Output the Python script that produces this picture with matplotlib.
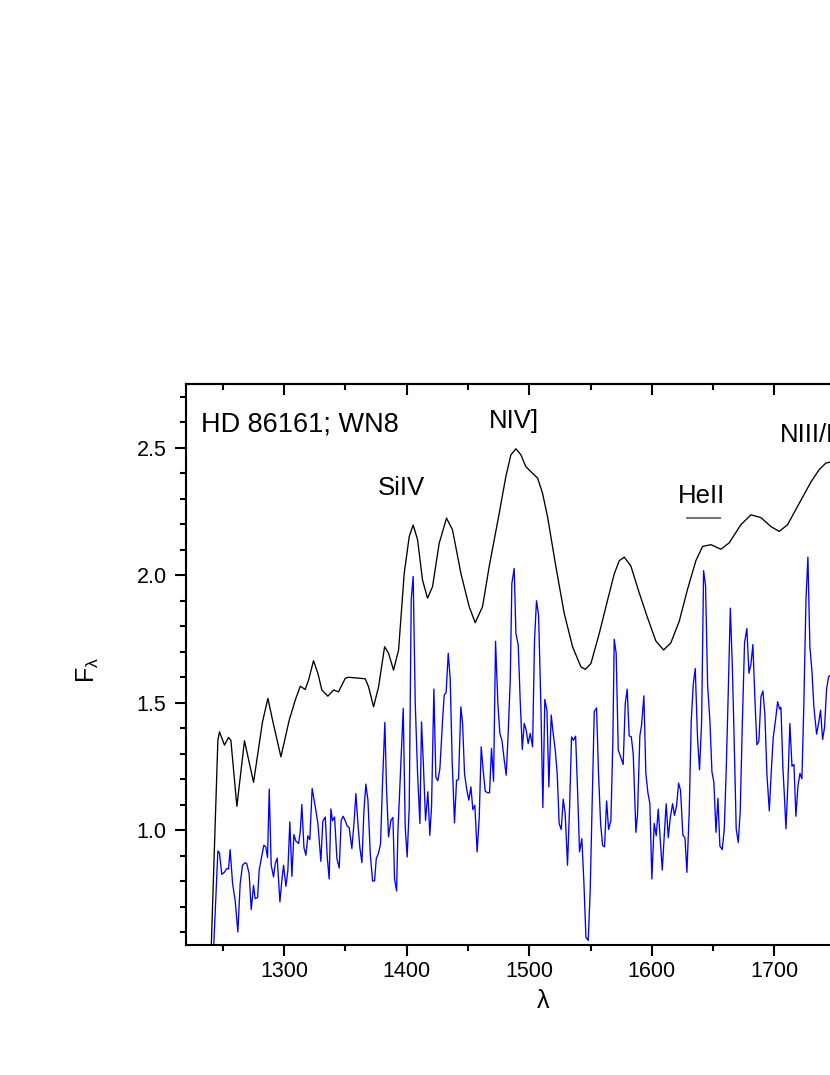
import matplotlib
matplotlib.use('Agg')
import matplotlib.pyplot as plt
from matplotlib.ticker import MultipleLocator, FormatStrFormatter

plt.rcParams['font.family'] = ['Liberation Sans', 'DejaVu Sans']
plt.rcParams['mathtext.default'] = 'regular'

# smoothed (model) spectrum, black
model_wave = [1240.3, 1246.0, 1247.3, 1251.4, 1254.7, 1256.6, 1261.5, 1267.7, 1275.1, 1282.4,
              1286.8, 1290.6, 1297.4, 1304.2, 1309.1, 1313.2, 1317.2, 1320.0, 1324.0, 1327.6,
              1330.8, 1335.7, 1340.4, 1344.4, 1349.9, 1352.6, 1366.2, 1368.9, 1373.0, 1377.1,
              1382.0, 1385.2, 1389.3, 1393.4, 1398.0, 1402.1, 1405.3, 1408.9, 1412.9, 1417.0,
              1421.1, 1426.5, 1432.5, 1437.4, 1444.2, 1451.0, 1455.9, 1461.9, 1467.3, 1475.5,
              1480.9, 1485.0, 1489.1, 1493.2, 1497.2, 1502.7, 1506.8, 1510.8, 1514.9, 1521.7,
              1528.5, 1535.3, 1542.1, 1545.7, 1550.3, 1557.1, 1563.9, 1569.3, 1573.4, 1577.5,
              1582.9, 1589.7, 1596.5, 1603.3, 1609.6, 1615.5, 1622.3, 1629.1, 1635.9, 1641.4,
              1648.2, 1656.3, 1663.1, 1672.6, 1680.8, 1689.0, 1697.1, 1703.9, 1710.7, 1720.2,
              1729.8, 1736.6, 1742.0, 1744.7, 1750.0]
model_flux = [0.50, 1.353, 1.386, 1.334, 1.364, 1.353, 1.094, 1.351, 1.188, 1.425,
              1.517, 1.432, 1.288, 1.432, 1.510, 1.565, 1.552, 1.589, 1.665, 1.615,
              1.550, 1.526, 1.550, 1.543, 1.596, 1.600, 1.594, 1.563, 1.484, 1.563,
              1.720, 1.694, 1.628, 1.707, 2.008, 2.152, 2.197, 2.139, 1.982, 1.910,
              1.955, 2.125, 2.224, 2.178, 2.008, 1.877, 1.814, 1.877, 2.034, 2.243,
              2.387, 2.472, 2.496, 2.472, 2.426, 2.400, 2.381, 2.322, 2.230, 2.034,
              1.851, 1.720, 1.641, 1.631, 1.654, 1.772, 1.903, 2.005, 2.057, 2.071,
              2.036, 1.931, 1.833, 1.742, 1.707, 1.735, 1.819, 1.945, 2.057, 2.113,
              2.120, 2.102, 2.127, 2.198, 2.237, 2.226, 2.191, 2.172, 2.198, 2.282,
              2.366, 2.415, 2.440, 2.443, 2.445]

# observed spectrum, blue
obs_wave = [1242.2, 1246.0, 1247.3, 1249.2, 1251.4, 1253.3, 1254.7, 1256.0, 1258.0, 1260.1,
            1262.3, 1264.2, 1266.1, 1268.3, 1269.6, 1271.5, 1273.2, 1275.1, 1276.4, 1278.4,
            1279.7, 1281.9, 1283.5, 1285.1, 1286.5, 1287.9, 1289.5, 1291.4, 1292.8, 1294.4,
            1296.6, 1298.2, 1299.6, 1301.5, 1303.1, 1304.7, 1306.4, 1308.0, 1309.6, 1311.8,
            1313.2, 1314.5, 1316.2, 1317.8, 1319.4, 1321.0, 1322.9, 1325.4, 1327.6, 1330.0,
            1331.6, 1333.6, 1335.2, 1336.8, 1338.2, 1339.5, 1341.2, 1343.1, 1345.0, 1346.6,
            1348.2, 1349.9, 1351.5, 1353.1, 1355.3, 1357.2, 1358.6, 1360.2, 1361.8, 1363.5,
            1365.1, 1366.7, 1368.4, 1370.3, 1372.2, 1373.8, 1375.2, 1377.1, 1378.7, 1380.3,
            1382.2, 1383.6, 1385.2, 1387.1, 1388.8, 1390.1, 1391.8, 1392.8, 1397.2, 1398.8,
            1400.4, 1402.1, 1403.7, 1405.3, 1407.0, 1408.9, 1410.8, 1412.1, 1413.5, 1415.4,
            1417.3, 1418.9, 1420.3, 1422.2, 1423.8, 1425.4, 1427.1, 1429.3, 1430.6, 1432.2,
            1433.9, 1435.5, 1437.1, 1439.0, 1440.7, 1442.3, 1444.2, 1445.6, 1447.2, 1449.1,
            1450.7, 1452.4, 1454.0, 1455.6, 1457.5, 1459.2, 1460.8, 1462.4, 1464.1, 1466.0,
            1467.6, 1469.2, 1470.9, 1472.5, 1474.4, 1476.0, 1477.7, 1479.6, 1481.2, 1482.8,
            1484.5, 1485.8, 1487.7, 1489.1, 1491.0, 1492.6, 1494.3, 1495.9, 1497.5, 1499.1,
            1500.8, 1502.7, 1504.3, 1505.9, 1507.6, 1509.5, 1511.1, 1512.7, 1514.4, 1516.0,
            1517.9, 1519.5, 1521.2, 1522.8, 1524.4, 1526.1, 1527.7, 1529.3, 1531.2, 1532.9,
            1534.5, 1536.1, 1537.8, 1539.4, 1541.0, 1542.9, 1544.6, 1546.2, 1548.1, 1549.7,
            1551.4, 1553.0, 1554.9, 1556.5, 1558.2, 1559.8, 1561.4, 1563.1, 1564.7, 1566.6,
            1568.2, 1569.3, 1570.9, 1572.6, 1574.7, 1576.6, 1578.3, 1579.9, 1581.5, 1583.2,
            1584.8, 1587.0, 1588.3, 1590.2, 1591.6, 1593.5, 1595.1, 1596.8, 1598.4, 1600.0,
            1601.9, 1603.6, 1605.2, 1606.8, 1608.5, 1610.1, 1611.7, 1613.4, 1615.0, 1616.9,
            1618.5, 1620.2, 1621.8, 1623.4, 1625.3, 1627.0, 1628.6, 1630.5, 1632.1, 1633.8,
            1635.4, 1637.3, 1638.9, 1640.6, 1642.2, 1643.8, 1645.5, 1647.4, 1649.0, 1650.6,
            1652.3, 1653.9, 1655.5, 1657.4, 1659.1, 1660.7, 1662.3, 1664.0, 1665.6, 1667.2,
            1668.8, 1670.5, 1672.1, 1673.7, 1675.6, 1677.5, 1679.2, 1680.8, 1682.4, 1684.1,
            1685.7, 1687.3, 1689.0, 1690.6, 1692.2, 1693.9, 1695.8, 1697.4, 1699.0, 1700.9,
            1702.6, 1704.2, 1705.3, 1706.9, 1708.0, 1709.4, 1711.0, 1712.6, 1714.3, 1715.9,
            1717.5, 1719.2, 1720.8, 1722.4, 1724.0, 1725.7, 1727.3, 1728.9, 1730.6, 1732.2,
            1734.4, 1736.0, 1737.6, 1739.3, 1740.9, 1742.5, 1744.2, 1746.0]
obs_flux = [0.50, 0.919, 0.911, 0.827, 0.836, 0.850, 0.848, 0.924, 0.791, 0.725,
            0.601, 0.791, 0.863, 0.873, 0.869, 0.830, 0.689, 0.784, 0.732, 0.736,
            0.843, 0.902, 0.941, 0.935, 0.893, 1.161, 0.863, 0.817, 0.869, 0.891,
            0.719, 0.804, 0.863, 0.780, 0.843, 1.033, 0.819, 0.983, 0.958, 0.948,
            0.994, 1.101, 0.932, 0.902, 0.978, 0.963, 1.164, 1.094, 1.026, 0.878,
            1.035, 1.052, 0.895, 0.809, 1.084, 1.037, 1.052, 0.889, 0.852, 1.039,
            1.055, 1.037, 1.016, 1.011, 0.928, 1.039, 1.144, 1.029, 0.932, 0.873,
            1.072, 1.181, 1.118, 0.908, 0.801, 0.801, 0.889, 0.911, 0.948, 1.186,
            1.423, 1.157, 0.974, 1.039, 1.050, 0.810, 0.762, 0.987, 1.478, 1.013,
            0.895, 1.092, 1.903, 1.995, 1.497, 1.222, 1.026, 1.425, 1.275, 1.039,
            1.151, 0.980, 1.092, 1.554, 1.209, 1.194, 1.242, 1.432, 1.530, 1.540,
            1.694, 1.595, 1.275, 1.029, 1.196, 1.199, 1.484, 1.419, 1.222, 1.157,
            1.118, 1.170, 1.081, 1.098, 0.915, 1.052, 1.327, 1.236, 1.153, 1.147,
            1.147, 1.321, 1.192, 1.741, 1.497, 1.380, 1.353, 1.275, 1.216, 1.380,
            1.589, 1.968, 2.027, 1.772, 1.726, 1.510, 1.317, 1.419, 1.393, 1.340,
            1.380, 1.327, 1.746, 1.900, 1.844, 1.484, 1.089, 1.513, 1.471, 1.170,
            1.452, 1.380, 1.314, 1.222, 1.026, 1.003, 1.122, 1.065, 0.863, 1.092,
            1.366, 1.353, 1.369, 1.157, 0.915, 0.967, 0.791, 0.581, 0.568, 0.764,
            1.118, 1.465, 1.480, 1.222, 1.026, 0.941, 0.935, 1.115, 1.003, 1.039,
            1.353, 1.749, 1.693, 1.314, 1.286, 1.258, 1.497, 1.553, 1.370, 1.367,
            1.300, 0.992, 1.062, 1.370, 1.412, 1.527, 1.223, 1.146, 1.104, 0.809,
            1.027, 0.978, 1.083, 0.964, 0.844, 0.978, 1.104, 0.971, 1.048, 1.104,
            1.058, 1.097, 1.185, 1.157, 0.981, 0.971, 0.835, 1.076, 1.426, 1.574,
            1.634, 1.356, 1.237, 1.426, 2.018, 1.959, 1.567, 1.426, 1.230, 1.188,
            0.992, 1.125, 0.938, 0.924, 1.006, 1.244, 1.539, 1.871, 1.651, 1.342,
            1.006, 0.952, 1.076, 1.398, 1.735, 1.791, 1.616, 1.651, 1.728, 1.510,
            1.335, 1.349, 1.524, 1.546, 1.454, 1.216, 1.076, 1.230, 1.363, 1.433,
            1.504, 1.475, 1.482, 1.244, 1.146, 1.006, 1.188, 1.419, 1.251, 1.258,
            1.055, 1.174, 1.223, 1.202, 1.497, 1.903, 2.071, 1.721, 1.623, 1.482,
            1.377, 1.419, 1.471, 1.356, 1.405, 1.553, 1.602, 1.610]

fig = plt.figure(figsize=(8.3, 10.75), dpi=100)
# axes run past the right edge of the figure, as in the cropped original
ax = fig.add_axes([0.2241, 0.1209, 0.8419, 0.5219])

ax.plot(model_wave, model_flux, color='black', lw=0.95, solid_joinstyle='round')
ax.plot(obs_wave, obs_flux, color='blue', lw=0.95, solid_joinstyle='round')

ax.set_xlim(1220, 1790)
ax.set_ylim(0.55, 2.75)

ax.xaxis.set_major_locator(MultipleLocator(100))
ax.xaxis.set_minor_locator(MultipleLocator(50))
ax.yaxis.set_major_locator(MultipleLocator(0.5))
ax.yaxis.set_minor_locator(MultipleLocator(0.1))
ax.yaxis.set_major_formatter(FormatStrFormatter('%.1f'))

for s in ax.spines.values():
    s.set_linewidth(1.5)
ax.tick_params(which='both', direction='out', width=1.5, labelsize=15.5,
               top=False, right=False)
ax.tick_params(which='major', length=8)
ax.tick_params(which='minor', length=4.5)
ax.tick_params(axis='x', pad=3.5)
ax.tick_params(axis='y', pad=6)

top = ax.secondary_xaxis('top')
top.xaxis.set_major_locator(MultipleLocator(100))
top.xaxis.set_minor_locator(MultipleLocator(50))
top.tick_params(which='both', direction='in', width=1.5, labeltop=False)
top.tick_params(which='major', length=8)
top.tick_params(which='minor', length=4.5)
top.spines['top'].set_linewidth(1.5)

ax.text(1232.4, 2.563, 'HD 86161; WN8', fontsize=19.5)
ax.text(1376.8, 2.315, 'SiIV', fontsize=18.5)
ax.text(1467.3, 2.578, 'NIV]', fontsize=18.5)
ax.text(1620.9, 2.285, 'HeII', fontsize=18.5)
ax.text(1704.1, 2.523, 'NIII/NIV', fontsize=18.5)
ax.plot([1628.3, 1655.2], [2.224, 2.224], color='#777777', lw=1.5)

fig.text(88 / 830, 1 - 670 / 1075, r'F$_{\lambda}$', rotation=90,
         ha='center', va='center', fontsize=18)
fig.text(543 / 830, 1 - 1001 / 1075, 'λ', ha='center', va='center', fontsize=18)

fig.savefig('out.png', dpi=100)
